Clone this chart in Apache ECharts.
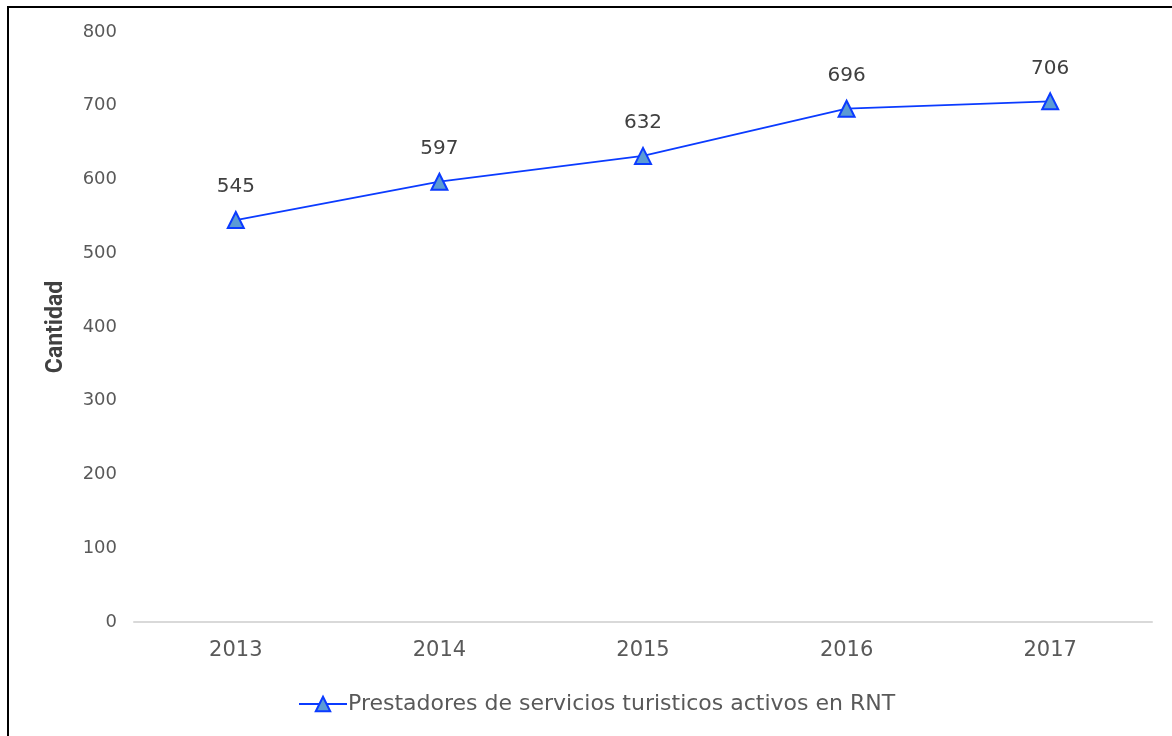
<!DOCTYPE html>
<html><head><meta charset="utf-8">
<script src="https://cdn.jsdelivr.net/npm/echarts@6/dist/echarts.min.js"></script>
<style>
html,body{margin:0;padding:0;background:#fff;}
#frame{position:absolute;left:7px;top:6px;width:1170px;height:740px;border-left:2px solid #000;border-top:2px solid #000;box-sizing:border-box;}
#c{position:absolute;left:0;top:0;width:1172px;height:736px;}
</style></head>
<body>
<div id="frame"></div>
<div id="c"></div>
<script>
const categories = ['2013','2014','2015','2016','2017'];
const values = [545, 597, 632, 696, 706];
const seriesName = 'Prestadores de servicios turisticos activos en RNT';
const yTicks = {min: 0, max: 800, interval: 100};

const FONT = 'DejaVu Sans';
const chart = echarts.init(document.getElementById('c'));
chart.setOption({
  animation: false,
  textStyle: {fontFamily: FONT},
  grid: {left: 134, right: 20, top: 32, bottom: 114},
  xAxis: {
    type: 'category', data: categories, boundaryGap: true,
    axisLine: {lineStyle: {color: '#d9d9d9', width: 2}},
    axisTick: {show: false},
    axisLabel: {color: '#595959', fontSize: 21, fontFamily: FONT, margin: 18}
  },
  yAxis: {
    type: 'value', min: yTicks.min, max: yTicks.max, interval: yTicks.interval,
    name: 'Cantidad', nameLocation: 'middle', nameGap: 66,
    nameTextStyle: {fontFamily: 'Liberation Sans Narrow, Roboto', fontWeight: 'bold', fontSize: 23, color: '#404040'},
    axisLine: {show: false}, axisTick: {show: false},
    splitLine: {show: false},
    axisLabel: {color: '#595959', fontSize: 18, fontFamily: FONT, margin: 17}
  },
  legend: {
    bottom: 16, left: 293,
    itemWidth: 48, itemHeight: 18, itemGap: 0,
    textStyle: {color: '#595959', fontSize: 22, fontFamily: FONT, padding: [0,0,0,-4]},
    data: [seriesName]
  },
  series: [{
    name: seriesName, type: 'line', data: values,
    symbol: 'triangle', symbolSize: 16,
    lineStyle: {color: '#0b3bff', width: 1.8},
    itemStyle: {color: '#5b9bd5', borderColor: '#0b3bff', borderWidth: 2},
    label: {show: true, position: 'top', distance: 14, color: '#404040', fontSize: 20, fontFamily: FONT}
  }]
});
</script>
</body></html>
